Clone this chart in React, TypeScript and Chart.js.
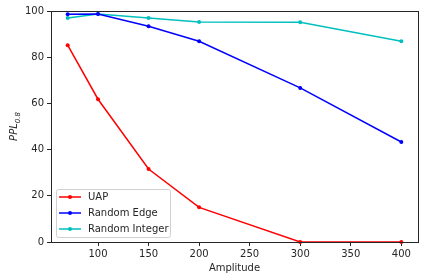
import React, { useEffect, useRef } from "react";
import { Chart, registerables } from "chart.js";

Chart.register(...registerables);

const amplitudes = [70, 100, 150, 200, 300, 400];
const uap = [85.2, 61.8, 31.6, 15.0, 0, 0];
const randomEdge = [98.6, 98.7, 93.4, 86.9, 66.7, 43.3];
const randomInteger = [97.0, 98.7, 97.0, 95.2, 95.1, 86.9];
const xTicks = [100, 150, 200, 250, 300, 350, 400];
const yTicks = [0, 20, 40, 60, 80, 100];
const seriesNames = ["UAP", "Random Edge", "Random Integer"];
const seriesColors = ["#ff0000", "#0000ff", "#00bfbf"];

const FONT = "DejaVu Sans";
const TEXT = "#262626";

const framePlugin = {
  id: "frame",
  afterDatasetsDraw(chart: any) {
    const { ctx, chartArea: a } = chart;
    ctx.save();
    ctx.strokeStyle = "#262626";
    ctx.lineWidth = 1;
    ctx.strokeRect(Math.round(a.left) + 0.5, Math.round(a.top) + 0.5, Math.round(a.right - a.left), Math.round(a.bottom - a.top));
    ctx.restore();
  },
  afterDraw(chart: any) {
    const { ctx, chartArea: a } = chart;
    ctx.save();
    // x title
    ctx.fillStyle = TEXT;
    ctx.font = `10px '${FONT}'`;
    ctx.textAlign = "center";
    ctx.textBaseline = "middle";
    ctx.fillText("Amplitude", (a.left + a.right) / 2, 268);
    // y title with subscript
    ctx.save();
    ctx.translate(13, (a.top + a.bottom) / 2);
    ctx.rotate(-Math.PI / 2);
    ctx.textAlign = "left";
    ctx.textBaseline = "alphabetic";
    ctx.font = `italic 10px '${FONT}'`;
    const w1 = ctx.measureText("PPL").width;
    ctx.font = `italic 7px '${FONT}'`;
    const w2 = ctx.measureText("0.8").width;
    const start = -(w1 + w2) / 2;
    ctx.font = `italic 10px '${FONT}'`;
    ctx.fillText("PPL", start, 4);
    ctx.font = `italic 7px '${FONT}'`;
    ctx.fillText("0.8", start + w1, 6.5);
    ctx.restore();
    // legend
    const bx = 56.5, by = 189.5, bw = 114, bh = 48;
    ctx.beginPath();
    (ctx as any).roundRect(bx, by, bw, bh, 2);
    ctx.fillStyle = "rgba(255,255,255,0.8)";
    ctx.fill();
    ctx.strokeStyle = "#d0d0d0";
    ctx.lineWidth = 1;
    ctx.stroke();
    const rows = [197, 213, 229];
    seriesNames.forEach((name, i) => {
      const y = rows[i];
      ctx.strokeStyle = seriesColors[i];
      ctx.lineWidth = 1.5;
      ctx.beginPath();
      ctx.moveTo(59, y);
      ctx.lineTo(81, y);
      ctx.stroke();
      ctx.fillStyle = seriesColors[i];
      ctx.beginPath();
      ctx.arc(70, y, 2, 0, Math.PI * 2);
      ctx.fill();
      ctx.fillStyle = TEXT;
      ctx.font = `10px '${FONT}'`;
      ctx.textAlign = "left";
      ctx.textBaseline = "middle";
      ctx.fillText(name, 88, y);
    });
    ctx.restore();
  },
};

export default function App() {
  const ref = useRef<HTMLCanvasElement | null>(null);
  useEffect(() => {
    if (!ref.current) return;
    const data = [uap, randomEdge, randomInteger];
    const chart = new Chart(ref.current, {
      type: "line",
      data: {
        datasets: seriesNames.map((name, i) => ({
          label: name,
          data: amplitudes.map((x, j) => ({ x, y: data[i][j] })),
          borderColor: seriesColors[i],
          backgroundColor: seriesColors[i],
          borderWidth: 1.5,
          pointRadius: 2,
          pointBorderWidth: 0,
          pointHoverRadius: 2,
          tension: 0,
          clip: false as any,
        })),
      },
      options: {
        responsive: false,
        animation: false,
        devicePixelRatio: 1,
        layout: { padding: { left: 0, top: 11, right: 6, bottom: 0 } },
        plugins: { legend: { display: false }, tooltip: { enabled: false } },
        scales: {
          x: {
            type: "linear",
            min: 53.5,
            max: 416.5,
            afterBuildTicks: (s: any) => {
              s.ticks = xTicks.map((v) => ({ value: v }));
            },
            afterFit: (s: any) => {
              s.height = 38;
            },
            grid: { drawOnChartArea: false, drawTicks: true, tickLength: 4, tickColor: "#262626" },
            border: { display: false },
            ticks: { color: TEXT, font: { family: FONT, size: 10 }, padding: 2, maxRotation: 0 },
          },
          y: {
            type: "linear",
            min: 0,
            max: 100,
            afterBuildTicks: (s: any) => {
              s.ticks = yTicks.map((v) => ({ value: v }));
            },
            afterFit: (s: any) => {
              s.width = 51;
            },
            grid: { drawOnChartArea: false, drawTicks: true, tickLength: 4, tickColor: "#262626" },
            border: { display: false },
            ticks: { color: TEXT, font: { family: FONT, size: 10 }, padding: 3 },
          },
        },
      },
      plugins: [framePlugin],
    });
    return () => chart.destroy();
  }, []);
  return (
    <div style={{ position: "fixed", left: 0, top: 0, width: 424, height: 280, background: "#fff" }}>
      <canvas ref={ref} width={424} height={280} />
    </div>
  );
}
